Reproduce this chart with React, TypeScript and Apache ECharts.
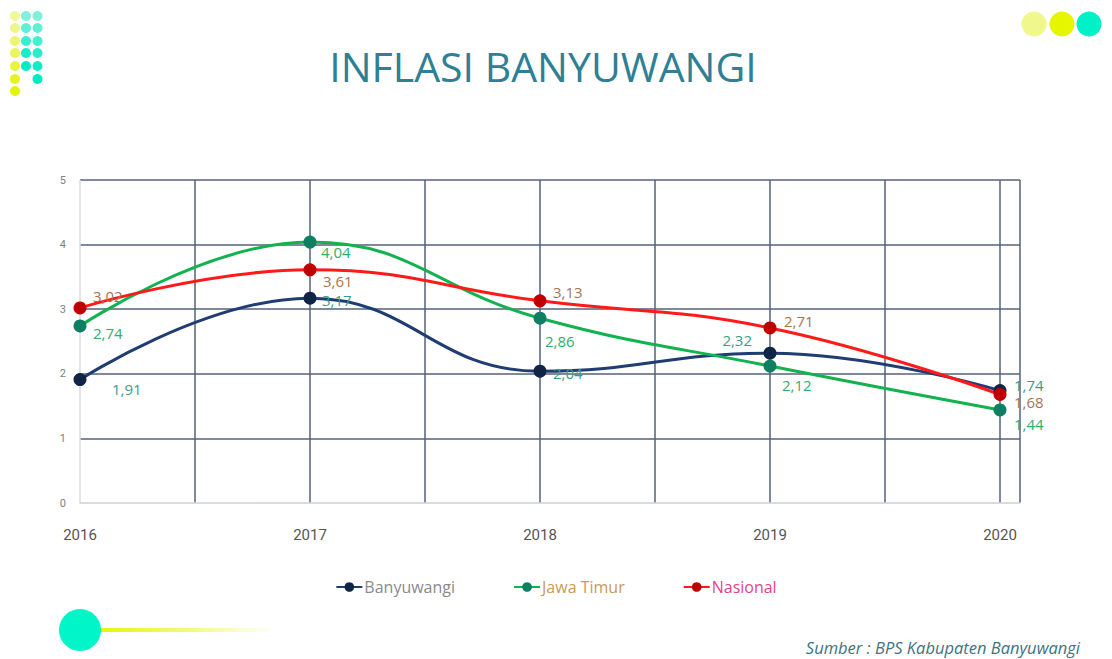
import React, { useEffect, useRef } from "react";
import * as echarts from "echarts";

// ---- data ----
const years = [2016, 2017, 2018, 2019, 2020];
const banyuwangi = [1.91, 3.17, 2.04, 2.32, 1.74];
const jawaTimur = [2.74, 4.04, 2.86, 2.12, 1.44];
const nasional = [3.02, 3.61, 3.13, 2.71, 1.68];
const seriesNames = ["Banyuwangi", "Jawa Timur", "Nasional"];
const yMin = 0;
const yMax = 5;
const titleText = "INFLASI BANYUWANGI";
const sourceText = "Sumber : BPS Kabupaten Banyuwangi";

// ---- label placement (px offsets from point) ----
const offB: [number, number][] = [[32, 9], [12, 2], [13, 2], [-18, -13], [14, -6]];
const offJ: [number, number][] = [[13, 7], [11, 10], [5, 23], [12, 19], [14, 14]];
const offN: [number, number][] = [[13, -12], [13, 11], [13, -9], [14, -7], [14, 8]];
const alignB = ["left", "left", "left", "right", "left"];

const fmt = (v: number) => v.toFixed(2).replace(".", ",");

const LABEL_FONT = "'Open Sans', 'Noto Sans', sans-serif";

function buildData(vals: number[], offs: [number, number][], aligns?: string[]) {
  return years.map((y, i) => ({
    value: [y, vals[i]],
    label: { offset: offs[i], align: aligns ? aligns[i] : "left" },
  }));
}

function dots() {
  const els: any[] = [];
  const col1 = ["#f1f79a", "#eef68a", "#ebf571", "#e9f55a", "#e7f540", "#e5f41f", "#e4f300"];
  const col2 = ["#7ff0db", "#5cefd5", "#3aedcf", "#1aebc9", "#00eac4"];
  const col3 = ["#7ff0db", "#62efd6", "#46eed1", "#2aeccc", "#12ebc7", "#00eac4"];
  const ys = [16, 28, 41, 53, 66, 79, 91];
  col1.forEach((c, i) => els.push({ type: "circle", shape: { cx: 15, cy: ys[i], r: 5 }, style: { fill: c } }));
  col2.forEach((c, i) => els.push({ type: "circle", shape: { cx: 26, cy: ys[i], r: 5 }, style: { fill: c } }));
  col3.forEach((c, i) => els.push({ type: "circle", shape: { cx: 37.5, cy: ys[i], r: 5 }, style: { fill: c } }));
  // top-right circles
  els.push({ type: "circle", shape: { cx: 1034, cy: 24, r: 12.5 }, style: { fill: "#f0f88c" } });
  els.push({ type: "circle", shape: { cx: 1062, cy: 24, r: 12.5 }, style: { fill: "#e6f500" } });
  els.push({ type: "circle", shape: { cx: 1089, cy: 24, r: 12.5 }, style: { fill: "#00f0c8" } });
  // bottom-left ornament
  els.push({
    type: "rect",
    shape: { x: 95, y: 628, width: 185, height: 4 },
    style: {
      fill: new echarts.graphic.LinearGradient(0, 0, 1, 0, [
        { offset: 0, color: "rgba(230,245,0,1)" },
        { offset: 0.5, color: "rgba(235,248,60,0.7)" },
        { offset: 1, color: "rgba(240,250,120,0)" },
      ]),
    },
  });
  els.push({ type: "circle", shape: { cx: 80, cy: 630, r: 21 }, style: { fill: "#00f5c8" } });
  return els;
}

export default function App() {
  const ref = useRef<HTMLDivElement>(null);
  useEffect(() => {
    if (!ref.current) return;
    const chart = echarts.init(ref.current, null, { renderer: "svg" });
    const dark = "#56627a";
    const light = "#d6dae0";
    const mkSeries = (
      name: string,
      data: any[],
      lineColor: string,
      markColor: string,
      labelColor: string
    ) => ({
      name,
      type: "line",
      data,
      smooth: 0.45,
      symbol: "circle",
      symbolSize: 13,
      lineStyle: { color: lineColor, width: 3 },
      itemStyle: { color: markColor },
      label: {
        show: true,
        position: "inside",
        verticalAlign: "middle",
        color: labelColor,
        fontSize: 15,
        lineHeight: 14,
        fontFamily: LABEL_FONT,
        formatter: (p: any) => fmt(p.value[1]),
      },
      emphasis: { disabled: true },
    });

    chart.setOption({
      animation: false,
      backgroundColor: "#ffffff",
      graphic: [
        ...dots(),
        {
          type: "text",
          x: 543,
          y: 66,
          style: {
            text: titleText,
            fill: "#2f7f96",
            fontSize: 41,
            fontFamily: "'Open Sans', sans-serif",
            align: "center",
            verticalAlign: "middle",
          },
        },
        {
          type: "text",
          x: 1080,
          y: 647,
          style: {
            text: sourceText,
            fill: "#3f7282",
            fontSize: 16.5,
            fontStyle: "italic",
            fontFamily: "'Open Sans', sans-serif",
            align: "right",
            verticalAlign: "middle",
          },
        },
      ],
      grid: { left: 80, right: 92, top: 180, bottom: 156, containLabel: false },
      legend: {
        top: 574,
        left: "center",
        itemWidth: 26,
        itemHeight: 12,
        itemGap: 58,
        textStyle: { fontSize: 16, fontFamily: LABEL_FONT, padding: [0, 0, 0, -3] },
        data: [
          { name: seriesNames[0], textStyle: { color: "#8a8a8a" } },
          { name: seriesNames[1], textStyle: { color: "#c99a55" } },
          { name: seriesNames[2], textStyle: { color: "#e2458a" } },
        ],
      },
      xAxis: {
        type: "value",
        min: 2016,
        max: 2020 + 20 / 230,
        interval: 0.5,
        axisLine: { show: true, lineStyle: { color: light, width: 1.5 } },
        axisTick: { show: false },
        axisLabel: {
          margin: 24,
          fontSize: 15,
          color: "#555555",
          fontFamily: "'Liberation Sans Narrow', 'Roboto', sans-serif",
          formatter: (v: number) => (Math.abs(v - Math.round(v)) < 1e-6 ? String(Math.round(v)) : ""),
          showMaxLabel: false,
        },
        splitLine: {
          show: true,
          lineStyle: { color: [light, dark, dark, dark, dark, dark, dark, dark, dark, dark], width: 1.5 },
        },
      },
      yAxis: {
        type: "value",
        min: yMin,
        max: yMax,
        interval: 1,
        axisLine: { show: false },
        axisTick: { show: false },
        axisLabel: { margin: 14, fontSize: 11, color: "#7f7f7f", fontFamily: "'Liberation Sans Narrow', 'Roboto', sans-serif" },
        splitLine: { show: true, lineStyle: { color: [light, dark, dark, dark, dark, dark], width: 1.5 } },
      },
      series: [
        mkSeries(seriesNames[0], buildData(banyuwangi, offB, alignB), "#1f3d73", "#102445", "#3a9e84"),
        mkSeries(seriesNames[1], buildData(jawaTimur, offJ), "#12b24e", "#0e7f62", "#2fae6c"),
        mkSeries(seriesNames[2], buildData(nasional, offN), "#ff1a1a", "#c00000", "#a87450"),
      ],
    });
    return () => chart.dispose();
  }, []);
  return (
    <div
      ref={ref}
      style={{ position: "absolute", left: 0, top: 0, width: 1112, height: 659 }}
    />
  );
}
